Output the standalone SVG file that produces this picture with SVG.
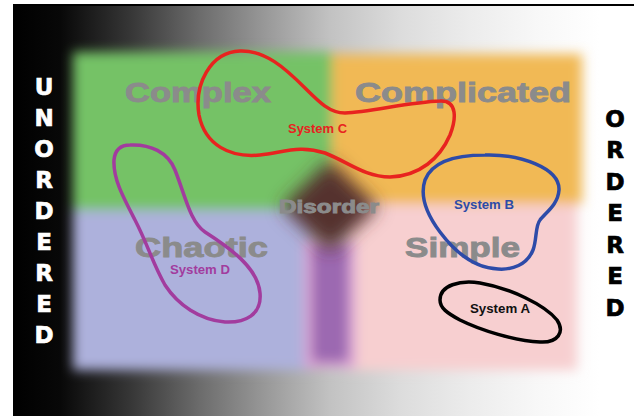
<svg xmlns="http://www.w3.org/2000/svg" width="634" height="416" viewBox="0 0 634 416">
  <defs>
    <!-- dark-to-light backdrop running from the unordered side to the ordered side -->
    <linearGradient id="tone" gradientUnits="userSpaceOnUse" x1="13" y1="0" x2="634" y2="0">
      <stop offset="0" stop-color="#000"/>
      <stop offset="0.076" stop-color="#080808"/>
      <stop offset="0.188" stop-color="#363636"/>
      <stop offset="0.301" stop-color="#6c6c6c"/>
      <stop offset="0.398" stop-color="#959595"/>
      <stop offset="0.51" stop-color="#c2c2c2"/>
      <stop offset="0.623" stop-color="#dcdcdc"/>
      <stop offset="0.736" stop-color="#ececec"/>
      <stop offset="0.849" stop-color="#f8f8f8"/>
      <stop offset="0.945" stop-color="#fff"/>
    </linearGradient>
    <filter id="soft" x="-10%" y="-10%" width="120%" height="120%">
      <feGaussianBlur stdDeviation="6"/>
    </filter>
    <filter id="softer" x="-50%" y="-50%" width="200%" height="200%">
      <feGaussianBlur stdDeviation="9"/>
    </filter>
  </defs>
  <style>
    .domain{font-family:"Liberation Sans",Arial,sans-serif;font-weight:bold;fill:#8b8b8b;stroke:#8b8b8b;stroke-width:0.9}
    .sys{font-family:"Liberation Sans",Arial,sans-serif;font-weight:bold;font-size:12px}
    .loop{fill:none;stroke-width:3.5;stroke-linejoin:round}
    .axis{font-family:"DejaVu Sans","Liberation Sans",sans-serif;font-weight:bold;font-size:23px;text-anchor:middle;stroke-width:0.7}
  </style>

  <rect x="0" y="0" width="634" height="416" fill="#fff"/>
  <rect x="13" y="5" width="621" height="411" fill="url(#tone)"/>
  <line x1="13" y1="5" x2="634" y2="5" stroke="#000" stroke-width="2"/>

  <!-- soft-edged domain fields -->
  <g id="fields" filter="url(#soft)">
    <rect x="73" y="52" width="259" height="160" fill="#74c266"/>
    <rect x="332" y="54" width="250" height="150" fill="#f1b954"/>
    <rect x="73" y="210" width="240" height="160" fill="#adb1dc"/>
    <rect x="345" y="204" width="232" height="166" fill="#f7cfd0"/>
    <rect x="304" y="240" width="52" height="128" fill="#d9a3d3"/>
    <rect x="312" y="243" width="36" height="119" rx="6" fill="#9c69b1"/>
  </g>
  <g filter="url(#softer)">
    <polygon points="330,160 378,207 330,252 282,207" fill="#55302d"/>
  </g>

  <!-- domain names -->
  <g id="complex"><text class="domain" x="125" y="102" font-size="27" textLength="146" lengthAdjust="spacingAndGlyphs">Complex</text></g>
  <g id="complicated"><text class="domain" x="355" y="102" font-size="27" textLength="216" lengthAdjust="spacingAndGlyphs">Complicated</text></g>
  <g id="chaotic"><text class="domain" x="135" y="257" font-size="27" textLength="133" lengthAdjust="spacingAndGlyphs">Chaotic</text></g>
  <g id="simple"><text class="domain" x="405" y="257" font-size="27" textLength="115" lengthAdjust="spacingAndGlyphs">Simple</text></g>
  <g id="disorder"><text class="domain" x="279" y="213" font-size="18" textLength="100" lengthAdjust="spacingAndGlyphs">Disorder</text></g>

  <!-- systems drawn as free-hand loops -->
  <g id="system-c">
    <path class="loop" stroke="#e8231f" d="M240,51 C265,50 285,68 305,88 C320,103 330,113 345,113 C370,112 410,102 440,101 C458,100 456,120 450,135 C440,158 420,176 390,177 C365,177 348,162 325,153 C300,145 285,152 260,155 C230,158 205,145 199,115 C194,85 210,52 240,51 Z"/>
    <text class="sys" x="288" y="133" fill="#e8231f" textLength="59" lengthAdjust="spacingAndGlyphs">System C</text>
  </g>
  <g id="system-d">
    <path class="loop" stroke="#a23c9e" d="M130,145 C150,144 168,152 175,170 C185,195 190,222 205,232 C230,248 258,268 260,293 C262,315 245,323 225,322 C200,320 178,305 165,285 C152,262 148,245 135,220 C122,195 113,178 114,160 C115,150 120,145 130,145 Z"/>
    <text class="sys" x="170" y="274" fill="#a23c9e" textLength="60" lengthAdjust="spacingAndGlyphs">System D</text>
  </g>
  <g id="system-b">
    <path class="loop" stroke="#2d4ba8" d="M485,155 C520,154 560,168 559,190 C558,205 545,213 540,220 C535,226 537,240 533,250 C527,265 512,270 498,269 C475,268 455,252 440,232 C425,212 420,195 425,180 C432,162 455,155 485,155 Z"/>
    <text class="sys" x="454" y="209" fill="#2d4ba8" textLength="60" lengthAdjust="spacingAndGlyphs">System B</text>
  </g>
  <g id="system-a">
    <path class="loop" stroke="#000" d="M440,300 C440,285 460,280 480,283 C510,288 545,305 557,320 C565,332 558,343 540,342 C515,341 480,330 460,320 C447,313 440,308 440,300 Z"/>
    <text class="sys" x="470" y="313" fill="#111" textLength="60" lengthAdjust="spacingAndGlyphs">System A</text>
  </g>

  <!-- axis captions, one letter per line -->
  <g id="unordered" class="axis" fill="#fff" stroke="#fff">
    <text x="44" y="95">U</text>
    <text x="44" y="126">N</text>
    <text x="44" y="157">O</text>
    <text x="44" y="188">R</text>
    <text x="44" y="219">D</text>
    <text x="44" y="250">E</text>
    <text x="44" y="281">R</text>
    <text x="44" y="312">E</text>
    <text x="44" y="343">D</text>
  </g>
  <g id="ordered" class="axis" fill="#000" stroke="#000">
    <text x="615" y="127">O</text>
    <text x="615" y="158">R</text>
    <text x="615" y="190">D</text>
    <text x="615" y="221">E</text>
    <text x="615" y="253">R</text>
    <text x="615" y="284">E</text>
    <text x="615" y="316">D</text>
  </g>
</svg>
